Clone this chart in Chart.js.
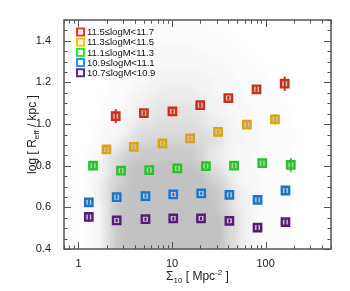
<!DOCTYPE html>
<html>
<head>
<meta charset="utf-8">
<script src="https://cdn.jsdelivr.net/npm/chart.js@4.4.0/dist/chart.umd.min.js"></script>
<style>
html, body { margin: 0; padding: 0; background: #fff; }
#wrap { width: 350px; height: 291px; }
</style>
</head>
<body>
<div id="wrap"><canvas id="sizes"></canvas></div>
<script>
// mass bins
var massLabels = ["11.5≤logM<11.7", "11.3≤logM<11.5", "11.1≤logM<11.3", "10.9≤logM<11.1", "10.7≤logM<10.9"];
var markerColors = ["#d02e1c", "#dca412", "#22c822", "#1a74d0", "#561c76"];
var legendColors = ["#ff3414", "#ffc414", "#30e430", "#2292ff", "#64248e"];

var sigmaRed = [2.5, 5.0, 10.1, 20, 40, 80, 160];
var reffRed = [1.038, 1.053, 1.061, 1.091, 1.125, 1.167, 1.194];
var errRed = [0.034, 0.01, 0.01, 0.01, 0.01, 0.012, 0.034];

var sigmaYellow = [1.99, 3.9, 7.9, 15.6, 31, 63, 126];
var reffYellow = [0.878, 0.891, 0.907, 0.931, 0.963, 0.997, 1.023];
var errYellow = [0.012, 0.01, 0.01, 0.01, 0.01, 0.012, 0.024];

var sigmaGreen = [1.43, 2.85, 5.7, 11.4, 23, 46, 92, 186];
var reffGreen = [0.800, 0.776, 0.779, 0.787, 0.798, 0.800, 0.812, 0.804];
var errGreen = [0.018, 0.01, 0.01, 0.01, 0.01, 0.01, 0.012, 0.032];

var sigmaBlue = [1.29, 2.56, 5.2, 10.3, 20.5, 41, 82, 163];
var reffBlue = [0.624, 0.649, 0.654, 0.662, 0.667, 0.660, 0.636, 0.681];
var errBlue = [0.02, 0.01, 0.008, 0.008, 0.008, 0.01, 0.012, 0.02];

var sigmaPurple = [1.29, 2.56, 5.2, 10.3, 20.4, 41, 82, 163];
var reffPurple = [0.554, 0.537, 0.543, 0.547, 0.547, 0.535, 0.503, 0.529];
var errPurple = [0.022, 0.008, 0.008, 0.008, 0.008, 0.008, 0.012, 0.02];

var xTicks = [1, 10, 100];
var yTicks = [0.4, 0.6, 0.8, 1.0, 1.2, 1.4];

// grey background sample, as a density map (0 = empty, 9 = solid), read by eye
var cloudLogSigma = [-0.1, 0.0, 0.1, 0.2, 0.3, 0.4, 0.5, 0.6, 0.7, 0.8, 0.9, 1.0, 1.1, 1.2,
  1.3, 1.4, 1.5, 1.6, 1.7, 1.8, 1.9, 2.0, 2.1, 2.2, 2.3, 2.4, 2.5, 2.6];
var cloudReff = [1.48, 1.44, 1.40, 1.36, 1.32, 1.28, 1.24, 1.20, 1.16, 1.12, 1.08, 1.04, 1.00, 0.96,
  0.92, 0.88, 0.84, 0.80, 0.76, 0.72, 0.68, 0.64, 0.60, 0.56, 0.52, 0.48, 0.44, 0.40];
var cloudRows = [
  "0000000000111110000000000000",
  "0000000011111111100000000000",
  "0000000111111111110000000000",
  "0000000111222211111000000000",
  "0000001112222222111100000000",
  "0000001122222222211110000000",
  "0000011122333332221111000000",
  "0000011223333333221111000000",
  "0000011233444433222111100000",
  "0000112334444443322111100000",
  "0000112344555543322211110000",
  "0000123345555554332211110000",
  "0001123455666654432221110000",
  "0001223566666665533221111000",
  "0001235667777766533221111000",
  "0011246788888875432221110000",
  "0012467888888875432211110000",
  "0012468999999986532211110000",
  "0012478999999997643221110000",
  "0013578999999998753221110000",
  "0013589999999999864321110000",
  "0013589999999999864321110000",
  "0012589999999999864321110000",
  "0012589999999999975321110000",
  "0012589999999999975321110000",
  "0012589999999999975321110000",
  "0012589999999999975321110000",
  "0012589999999999975321110000"
];

var sigmas = [sigmaRed, sigmaYellow, sigmaGreen, sigmaBlue, sigmaPurple];
var reffs = [reffRed, reffYellow, reffGreen, reffBlue, reffPurple];
var errs = [errRed, errYellow, errGreen, errBlue, errPurple];

var font = "'Liberation Sans', Arial, Helvetica, sans-serif";

var datasets = massLabels.map(function(label, k) {
  return {
    label: label,
    data: sigmas[k].map(function(s, i) { return { x: s, y: reffs[k][i] }; }),
    errors: errs[k],
    pointStyle: 'rect',
    pointRadius: 5.2,
    pointHoverRadius: 5.2,
    borderWidth: 2.4,
    borderColor: markerColors[k],
    backgroundColor: '#c4c4c4',
    showLine: false
  };
});

// density cloud drawn into an offscreen canvas, then softened
var cloudPlugin = {
  id: 'cloud',
  beforeDatasetsDraw: function(chart) {
    var xs = chart.scales.x, ys = chart.scales.y, a = chart.chartArea;
    var off = document.createElement('canvas');
    off.width = chart.width; off.height = chart.height;
    var oc = off.getContext('2d');
    cloudRows.forEach(function(row, j) {
      var y0 = Math.round(ys.getPixelForValue(cloudReff[j] + 0.02));
      var y1 = Math.round(ys.getPixelForValue(cloudReff[j] - 0.02));
      for (var i = 0; i < row.length; i++) {
        var lvl = +row[i];
        if (!lvl) continue;
        var x0 = Math.round(xs.getPixelForValue(Math.pow(10, cloudLogSigma[i] - 0.05)));
        var x1 = Math.round(xs.getPixelForValue(Math.pow(10, cloudLogSigma[i] + 0.05)));
        oc.fillStyle = 'rgba(194,194,194,' + Math.pow(lvl / 9, 1.4).toFixed(3) + ')';
        oc.fillRect(x0, y0, x1 - x0, y1 - y0);
      }
    });
    var ctx = chart.ctx;
    ctx.save();
    ctx.beginPath();
    ctx.rect(a.left, a.top, a.right - a.left, a.bottom - a.top);
    ctx.clip();
    ctx.filter = 'blur(3px)';
    ctx.drawImage(off, 0, 0);
    ctx.restore();
  }
};

var errorPlugin = {
  id: 'errorbars',
  afterDatasetsDraw: function(chart) {
    var ctx = chart.ctx, ys = chart.scales.y;
    ctx.save();
    chart.data.datasets.forEach(function(ds, k) {
      var meta = chart.getDatasetMeta(k);
      meta.data.forEach(function(pt, i) {
        var v = ds.data[i].y, e = ds.errors[i];
        ctx.strokeStyle = ds.borderColor;
        ctx.lineWidth = 2;
        ctx.beginPath();
        ctx.moveTo(pt.x, ys.getPixelForValue(v + e));
        ctx.lineTo(pt.x, ys.getPixelForValue(v - e));
        ctx.stroke();
      });
    });
    ctx.restore();
  }
};

// IDL style frame with inward ticks on all four sides
var framePlugin = {
  id: 'frame',
  afterDatasetsDraw: function(chart) {
    var ctx = chart.ctx, a = chart.chartArea, xs = chart.scales.x, ys = chart.scales.y;
    ctx.save();
    ctx.strokeStyle = '#555';
    ctx.lineWidth = 1.5;
    ctx.strokeRect(a.left, a.top, a.right - a.left, a.bottom - a.top);
    ctx.lineWidth = 1;
    function xtick(v, len) {
      var px = Math.round(xs.getPixelForValue(v)) + 0.5;
      ctx.beginPath();
      ctx.moveTo(px, a.bottom); ctx.lineTo(px, a.bottom - len);
      ctx.moveTo(px, a.top); ctx.lineTo(px, a.top + len);
      ctx.stroke();
    }
    function ytick(v, len) {
      var py = Math.round(ys.getPixelForValue(v)) + 0.5;
      ctx.beginPath();
      ctx.moveTo(a.left, py); ctx.lineTo(a.left + len, py);
      ctx.moveTo(a.right, py); ctx.lineTo(a.right - len, py);
      ctx.stroke();
    }
    [1, 10, 100].forEach(function(d) {
      for (var m = 1; m < 10; m++) {
        [d / 10 * m, d * m].forEach(function(v) {
          if (v >= xs.min && v <= xs.max) xtick(v, m === 1 && v >= 1 ? 7 : 3.5);
        });
      }
    });
    for (var t = 40; t <= 150; t += 5) {
      ytick(t / 100, t % 20 === 0 ? 7 : 3.5);
    }
    ctx.restore();
  }
};

var legendPlugin = {
  id: 'boxLegend',
  afterDatasetsDraw: function(chart) {
    var ctx = chart.ctx, a = chart.chartArea;
    ctx.save();
    ctx.font = '9.5px ' + font;
    ctx.textBaseline = 'middle';
    chart.data.datasets.forEach(function(ds, k) {
      var cy = a.top + 12 + k * 10.2;
      ctx.strokeStyle = legendColors[k];
      ctx.lineWidth = 2;
      ctx.strokeRect(a.left + 13, cy - 3.5, 7, 7);
      ctx.fillStyle = '#111';
      ctx.fillText(ds.label, a.left + 23, cy + 0.5);
    });
    ctx.restore();
  }
};

var titlePlugin = {
  id: 'axisTitles',
  afterDraw: function(chart) {
    var ctx = chart.ctx, a = chart.chartArea;
    var big = '12px ' + font, small = '8px ' + font;
    function run(parts) {
      var w = 0;
      parts.forEach(function(p) { ctx.font = p[1]; w += ctx.measureText(p[0]).width; });
      return w;
    }
    function drawRun(parts, x, y) {
      parts.forEach(function(p) {
        ctx.font = p[1];
        ctx.fillText(p[0], x, y + p[2]);
        x += ctx.measureText(p[0]).width;
      });
    }
    ctx.save();
    ctx.fillStyle = '#222';
    ctx.textBaseline = 'alphabetic';
    ctx.textAlign = 'left';
    var xParts = [['Σ', big, 0], ['10', small, 2.5], [' [ Mpc', big, 0], ['-2', small, -5], [' ]', big, 0]];
    var cx = (a.left + a.right) / 2;
    drawRun(xParts, cx - run(xParts) / 2, 280);
    var yParts = [['log [ R', big, 0], ['eff', small, 2.5], [' / kpc ]', big, 0]];
    ctx.translate(36, (a.top + a.bottom) / 2);
    ctx.rotate(-Math.PI / 2);
    drawRun(yParts, -run(yParts) / 2, 0);
    ctx.restore();
  }
};

new Chart(document.getElementById('sizes'), {
  type: 'scatter',
  data: { datasets: datasets },
  plugins: [cloudPlugin, errorPlugin, framePlugin, legendPlugin, titlePlugin],
  options: {
    responsive: true,
    maintainAspectRatio: false,
    animation: false,
    layout: { padding: { left: 0, top: 20, right: 19, bottom: 0 } },
    plugins: {
      legend: { display: false },
      tooltip: { enabled: false }
    },
    scales: {
      x: {
        type: 'logarithmic',
        min: 0.7,
        max: 500,
        afterBuildTicks: function(s) { s.ticks = xTicks.map(function(v) { return { value: v }; }); },
        afterFit: function(s) { s.height = 42; },
        grid: { display: false, drawTicks: false },
        border: { display: false },
        ticks: {
          padding: 8,
          maxRotation: 0,
          autoSkip: false,
          color: '#222',
          font: { family: font, size: 11 },
          callback: function(v) { return String(v); }
        }
      },
      y: {
        min: 0.4,
        max: 1.5,
        afterBuildTicks: function(s) { s.ticks = yTicks.map(function(v) { return { value: v }; }); },
        afterFit: function(s) { s.width = 64; },
        grid: { display: false, drawTicks: false },
        border: { display: false },
        ticks: {
          padding: 13,
          color: '#222',
          font: { family: font, size: 11 },
          callback: function(v) { return v.toFixed(1); }
        }
      }
    }
  }
});
</script>
</body>
</html>
